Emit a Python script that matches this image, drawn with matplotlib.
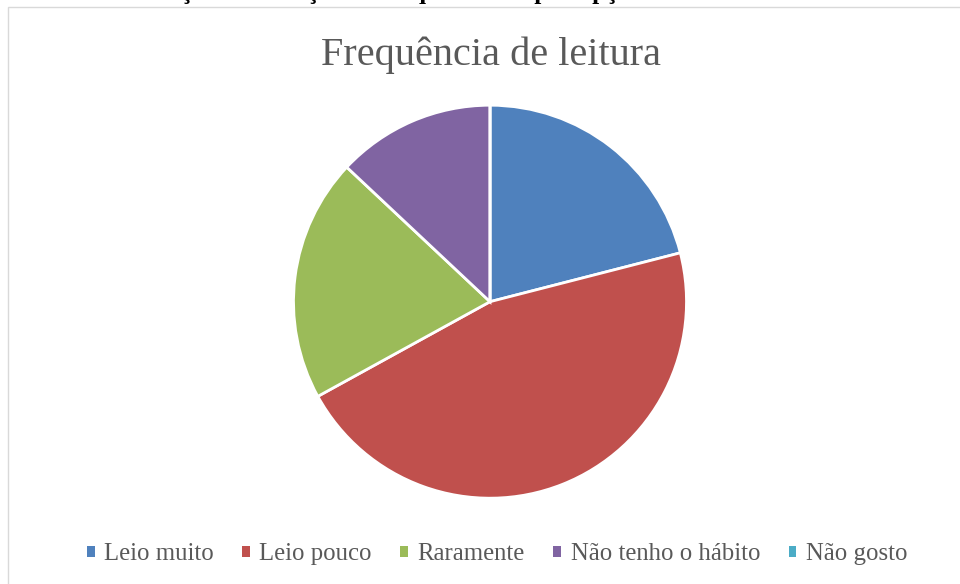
import matplotlib
matplotlib.use("Agg")
import matplotlib.pyplot as plt
from matplotlib.patches import Rectangle

categories = ["Leio muito", "Leio pouco", "Raramente", "Não tenho o hábito", "Não gosto"]
values = [21, 46, 20, 13, 0]
colors = ["#4F81BD", "#C0504D", "#9BBB59", "#8064A2", "#4BACC6"]
title = "Frequência de leitura"
page_caption = "Gráfico 1: Avaliação da situação da frequência da percepção de a beneficiários sobre a leitura"

W, H = 960, 584
fig = plt.figure(figsize=(W / 100, H / 100), dpi=100)
fig.patch.set_facecolor("white")

# chart border (extends beyond the right/bottom of the crop)
fig.patches.append(Rectangle((8 / W, -0.05), 1.1, (H - 7) / H + 0.05, transform=fig.transFigure,
                             fill=False, edgecolor="#D9D9D9", linewidth=1.0))

# clipped page caption at the very top
fig.text(0.0, 1 + 1.5 / H, page_caption, ha="left", va="baseline", fontsize=18,
         fontweight="bold", family="Liberation Serif", color="black")

cx, cy, r = 490, 584 - 301.7, 196.5
ax = fig.add_axes([(cx - r) / W, (cy - r) / H, 2 * r / W, 2 * r / H])
wedges, _ = ax.pie(values, colors=colors, startangle=90, counterclock=False,
                   wedgeprops=dict(edgecolor="white", linewidth=2.0))
ax.set_xlim(-1, 1)
ax.set_ylim(-1, 1)
ax.set_aspect("equal")
ax.axis("off")

fig.text(491 / W, 1 - 64.5 / H, title, ha="center", va="baseline", fontsize=29,
         family="Liberation Serif", color="#595959")

leg = fig.legend(wedges, categories, loc="center", bbox_to_anchor=(497 / W, 30 / H), ncol=5,
                 frameon=False, handlelength=0.32, handleheight=0.32, handletextpad=0.38,
                 columnspacing=1.15, prop=dict(family="Liberation Serif", size=17.8))
for t in leg.get_texts():
    t.set_color("#595959")
for h in leg.legend_handles:
    h.set_edgecolor("none")

fig.savefig("out.png", dpi=100)
